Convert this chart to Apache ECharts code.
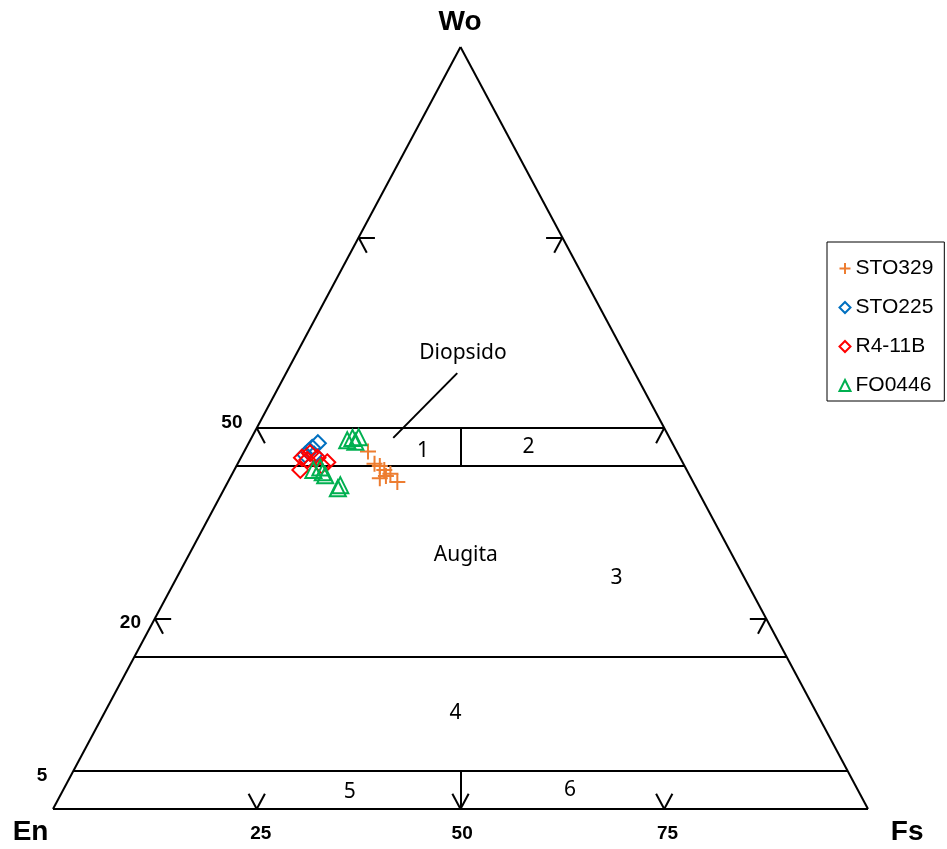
<!DOCTYPE html>
<html>
<head>
<meta charset="utf-8">
<script src="https://cdn.jsdelivr.net/npm/echarts@6/dist/echarts.min.js"></script>
<style>
  html, body { margin: 0; padding: 0; background: #fff; }
  #chart { width: 947px; height: 849px; }
</style>
</head>
<body>
<div id="chart"></div>
<script>
// ternary points as [Wo, Fs] in percent (En = 100 - Wo - Fs)
const sto329 = [[46.9, 15.2], [45.3, 16.8], [45.0, 17.6], [44.5, 18.4], [43.7, 19.0], [43.4, 18.4], [44.0, 19.4], [42.9, 20.8]]
const sto225 = [[48.0, 8.5], [47.4, 8.1], [46.9, 7.9], [46.5, 7.7], [46.5, 8.8]]
const r411b = [[46.1, 7.5], [44.5, 8.1], [46.7, 8.2], [46.1, 9.4], [45.5, 10.9], [45.1, 10.4], [45.8, 8.3]]
const fo0446 = [[48.4, 11.9], [48.7, 12.4], [48.8, 13.1], [48.2, 13.0], [44.5, 9.7], [44.8, 10.4], [44.2, 11.0], [43.8, 11.5], [42.5, 14.0], [42.1, 13.9]]

// field boundaries, [[Wo, Fs], [Wo, Fs]]
const fieldLines = [
  [[0, 0], [0, 100]],
  [[0, 0], [100, 0]],
  [[0, 100], [100, 0]],
  [[50, 0], [50, 50]],
  [[45, 0], [45, 55]],
  [[20, 0], [20, 80]],
  [[5, 0], [5, 95]],
  [[45, 27.5], [50, 25]],
  [[0, 50], [5, 47.5]],
  [[57.2, 21.0], [48.7, 17.4]]
]
const edgeTicks = [25, 50, 75]
const tickLen = 2

// [text, Wo, Fs]
const fieldNames = [['Diopsido', 59.8, 20.4], ['Augita', 33.3, 34.0], ['1', 47.0, 21.9], ['2', 47.5, 34.6],
  ['3', 30.3, 54.0], ['4', 12.6, 43.1], ['5', 2.2, 35.3], ['6', 2.5, 62.2]]
const axisNumbers = [['50', 50.7, -3.4], ['20', 24.4, -2.7], ['5', 4.3, -3.5], ['25', -3.2, 27.1], ['50', -3.2, 51.8], ['75', -3.2, 77.0]]
const cornerNames = [['Wo', 103.3, -1.7], ['En', -3.1, -1.2], ['Fs', -3.0, 106.3]]

const toXY = (wo, fs) => [fs / 100 + wo / 200, wo / 100]

const segs = fieldLines.map(s => ({ coords: [toXY(s[0][0], s[0][1]), toXY(s[1][0], s[1][1])] }))
edgeTicks.forEach(t => {
  // left edge (Fs = 0)
  segs.push({ coords: [toXY(t, 0), toXY(t, tickLen)] })
  segs.push({ coords: [toXY(t, 0), toXY(t - tickLen, tickLen)] })
  // right edge (En = 0)
  segs.push({ coords: [toXY(t, 100 - t), toXY(t, 100 - t - tickLen)] })
  segs.push({ coords: [toXY(t, 100 - t), toXY(t - tickLen, 100 - t)] })
  // bottom edge (Wo = 0)
  segs.push({ coords: [toXY(0, t), toXY(tickLen, t)] })
  segs.push({ coords: [toXY(0, t), toXY(tickLen, t - tickLen)] })
})

const plus = 'path://M0,5L10,5M5,0L5,10'
const groups = [
  { name: 'STO329', data: sto329, symbol: plus, color: '#ED7D31' },
  { name: 'STO225', data: sto225, symbol: 'diamond', color: '#0070C0' },
  { name: 'R4-11B', data: r411b, symbol: 'diamond', color: '#FF0000' },
  { name: 'FO0446', data: fo0446, symbol: 'triangle', color: '#00B050' }
]

function textSeries(list, font) {
  return {
    type: 'scatter',
    silent: true,
    clip: false,
    symbolSize: 1,
    itemStyle: { color: 'transparent', opacity: 1 },
    label: { show: true, position: 'inside', formatter: p => p.data.text, color: '#000', opacity: 1, ...font },
    data: list.map(d => ({ value: toXY(d[1], d[2]), text: d[0] }))
  }
}

const chart = echarts.init(document.getElementById('chart'))
chart.setOption({
  animation: false,
  grid: { left: 53, right: 79, top: 47, bottom: 40 },
  xAxis: { type: 'value', min: 0, max: 1, show: false },
  yAxis: { type: 'value', min: 0, max: 1, show: false },
  legend: {
    orient: 'vertical',
    left: 827,
    top: 242,
    padding: [16, 11, 5, 10],
    itemGap: 18,
    itemWidth: 11,
    itemHeight: 11,
    borderColor: '#000',
    borderWidth: 1,
    textStyle: { fontFamily: 'Liberation Sans', fontSize: 21, color: '#000' },
    data: groups.map(g => ({
      name: g.name,
      icon: g.symbol,
      itemStyle: { color: 'none', borderColor: g.color, borderWidth: 2, opacity: 1 }
    }))
  },
  series: [
    {
      type: 'lines',
      coordinateSystem: 'cartesian2d',
      silent: true,
      lineStyle: { color: '#000', width: 2, opacity: 1 },
      data: segs
    },
    textSeries(fieldNames, { fontFamily: 'Noto Sans', fontSize: 21 }),
    textSeries(axisNumbers, { fontFamily: 'Liberation Sans', fontSize: 19, fontWeight: 'bold' }),
    textSeries(cornerNames, { fontFamily: 'Liberation Sans', fontSize: 28, fontWeight: 'bold' }),
    ...groups.map(g => ({
      type: 'scatter',
      name: g.name,
      symbol: g.symbol,
      symbolSize: 16,
      itemStyle: { color: 'none', borderColor: g.color, borderWidth: 2, opacity: 1 },
      data: g.data.map(p => toXY(p[0], p[1]))
    }))
  ]
})
</script>
</body>
</html>
